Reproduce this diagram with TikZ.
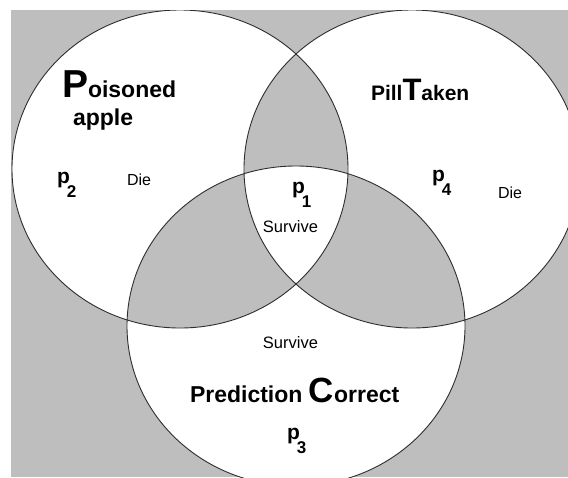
\documentclass[tikz,border=0pt]{standalone}
\usepackage{fontspec}
\setmainfont{Liberation Sans}
\definecolor{bggray}{RGB}{190,190,190}
\definecolor{edge}{RGB}{45,45,45}
\newcommand{\fsz}[1]{\fontsize{#1}{#1}\selectfont}
\newcommand{\pvar}[1]{{\fsz{21}\bfseries p}\kern-3pt\raisebox{-14pt}{\fsz{17}\bfseries #1}}
\tikzset{
  lbl/.style={anchor=base west, inner sep=0pt, outer sep=0pt, text=black},
  lblc/.style={anchor=base, inner sep=0pt, outer sep=0pt, text=black},
  setline/.style={draw=edge, line width=0.9pt}
}
\begin{document}
\begin{tikzpicture}[x=1pt,y=-1pt]
\useasboundingbox (0,0) rectangle (568,477);
\fill[white] (0,0) rectangle (568,477);
\begin{scope}
\clip (11,10) rectangle (568,477);
\fill[bggray] (11,10) rectangle (568,477);
\fill[white, even odd rule]
  (180,169) ellipse [x radius=168pt, y radius=159pt]
  (412,169) ellipse [x radius=168pt, y radius=159pt]
  (296,326) ellipse [x radius=169pt, y radius=160pt];
\draw[setline] (180,169) ellipse [x radius=168pt, y radius=159pt];
\draw[setline] (412,169) ellipse [x radius=168pt, y radius=159pt];
\draw[setline] (296,326) ellipse [x radius=169pt, y radius=160pt];
\end{scope}
% labels
\node[lbl] (poison) at (62,97) {{\fsz{39}\bfseries P}{\fsz{23}\bfseries oisoned}};
\node[lbl] (apple) at (73,125) {\fsz{23}\bfseries apple};
\node[lbl] (pill) at (371,100) {{\fsz{21}\bfseries Pill}{\fsz{31}\bfseries T}{\fsz{21}\bfseries aken}};
\node[lbl] (pred) at (190,402) {{\fsz{23}\bfseries Prediction }{\fsz{35}\bfseries C}{\fsz{23}\bfseries orrect}};
\node[lbl] (ptwo) at (57,183) {\pvar{2}};
\node[lbl] (pone) at (292,193) {\pvar{1}};
\node[lbl] (pfour) at (432,181) {\pvar{4}};
\node[lbl] (pthree) at (287,439) {\pvar{3}};
\node[lbl] (dieL) at (127,185) {\fsz{16}Die};
\node[lbl] (dieR) at (498,198) {\fsz{16}Die};
\node[lblc] (survC) at (290.5,232) {\fsz{16.5}Survive};
\node[lblc] (survB) at (290.5,348) {\fsz{16.5}Survive};
\end{tikzpicture}
\end{document}
